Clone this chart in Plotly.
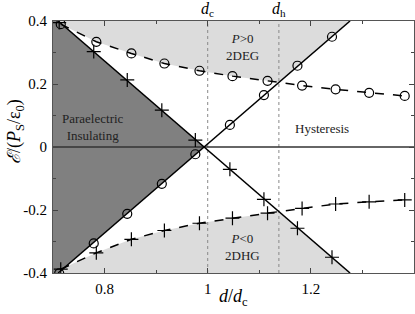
import plotly.graph_objects as go

# ---------------- data ----------------
# markers on the straight (solid) lines
solid_x = [0.712, 0.779, 0.844, 0.911, 0.976, 1.043, 1.109, 1.174, 1.241]
asc_circle_y = [-0.401, -0.306, -0.212, -0.117, -0.023, 0.070, 0.165, 0.258, 0.350]
desc_plus_y = [0.395, 0.303, 0.213, 0.117, 0.022, -0.071, -0.166, -0.258, -0.350]

# fitted straight lines
line_x = [0.710, 1.276]
asc_line_y = [-0.40, 0.40]
desc_line_y = [0.40, -0.40]

# dashed curves
dash_x = [0.715, 0.784, 0.852, 0.916, 0.984, 1.048, 1.116, 1.183, 1.248, 1.313, 1.382]
dash_circle_y = [0.390, 0.334, 0.297, 0.265, 0.242, 0.225, 0.210, 0.195, 0.183, 0.172, 0.162]
dash_plus_y = [-0.388, -0.336, -0.293, -0.265, -0.242, -0.226, -0.210, -0.195, -0.181, -0.174, -0.168]

d_c = 1.0
d_h = 1.138

x_range = [0.7, 1.4]
y_range = [-0.4, 0.4]
x_ticks = [0.8, 1.0, 1.2]
x_ticktext = ["0.8", "1", "1.2"]
y_ticks = [-0.4, -0.2, 0, 0.2, 0.4]
y_ticktext = ["-0.4", "-0.2", "0", "0.2", "0.4"]

# ---------------- helpers ----------------
def interp(x, xs, ys):
    for i in range(len(xs) - 1):
        if xs[i] <= x <= xs[i + 1]:
            t = (x - xs[i]) / (xs[i + 1] - xs[i])
            return ys[i] + t * (ys[i + 1] - ys[i])
    t = (x - xs[0]) / (xs[1] - xs[0])
    return ys[0] + t * (ys[1] - ys[0])

x_cross = line_x[0] + (0 - asc_line_y[0]) * (line_x[1] - line_x[0]) / (asc_line_y[1] - asc_line_y[0])

dark_x = [x_range[0], line_x[0], x_cross, line_x[0], x_range[0], x_range[0]]
dark_y = [y_range[1], desc_line_y[0], 0, asc_line_y[0], y_range[0], y_range[1]]

yh_up = interp(d_h, line_x, asc_line_y)
up_x = [x_range[0], line_x[1], d_h]
up_y = [y_range[1], asc_line_y[1], yh_up]
for xv, yv in reversed(list(zip(dash_x, dash_circle_y))):
    if xv < d_h:
        up_x.append(xv)
        up_y.append(yv)
up_x += [x_range[0], x_range[0]]
up_y += [y_range[1], y_range[1]]

yh_lo = interp(d_h, line_x, desc_line_y)
lo_x = [x_range[0], line_x[1], d_h]
lo_y = [y_range[0], desc_line_y[1], yh_lo]
for xv, yv in reversed(list(zip(dash_x, dash_plus_y))):
    if xv < d_h:
        lo_x.append(xv)
        lo_y.append(yv)
lo_x += [x_range[0], x_range[0]]
lo_y += [y_range[0], y_range[0]]

FONT = "'Liberation Serif', 'Times New Roman', Times, serif"
LIGHT = "#dcdcdc"
DARK = "#808080"

fig = go.Figure()

fig.add_trace(go.Scatter(x=up_x, y=up_y, fill="toself", fillcolor=LIGHT,
                         mode="none", hoverinfo="skip"))
fig.add_trace(go.Scatter(x=lo_x, y=lo_y, fill="toself", fillcolor=LIGHT,
                         mode="none", hoverinfo="skip"))
fig.add_trace(go.Scatter(x=dark_x, y=dark_y, fill="toself", fillcolor=DARK,
                         mode="none", hoverinfo="skip"))

for xv in [d_c, d_h]:
    fig.add_trace(go.Scatter(x=[xv, xv], y=y_range, mode="lines",
                             line=dict(color="#888888", width=1, dash="dot"),
                             hoverinfo="skip"))

fig.add_trace(go.Scatter(x=x_range, y=[0, 0], mode="lines",
                         line=dict(color="#333333", width=1.5), hoverinfo="skip"))

fig.add_trace(go.Scatter(x=line_x, y=asc_line_y, mode="lines",
                         line=dict(color="black", width=1.5)))
fig.add_trace(go.Scatter(x=line_x, y=desc_line_y, mode="lines",
                         line=dict(color="black", width=1.5)))

circle_marker = dict(symbol="circle-open", size=9, color="black", line=dict(width=1.2))
plus_marker = dict(symbol="cross-thin-open", size=10, color="black",
                   line=dict(width=1.2, color="black"))

fig.add_trace(go.Scatter(x=dash_x, y=dash_circle_y, mode="lines+markers",
                         line=dict(color="black", width=1.5, dash="dash"),
                         marker=circle_marker))
fig.add_trace(go.Scatter(x=dash_x, y=dash_plus_y, mode="lines+markers",
                         line=dict(color="black", width=1.5, dash="dash"),
                         marker=plus_marker))

fig.add_trace(go.Scatter(x=solid_x, y=asc_circle_y, mode="markers", marker=circle_marker))
fig.add_trace(go.Scatter(x=solid_x, y=desc_plus_y, mode="markers", marker=plus_marker))

axis_common = dict(
    showline=True, linecolor="#555555", linewidth=1, mirror="ticks",
    ticks="inside", ticklen=5, tickwidth=1, tickcolor="#444444",
    showgrid=False, zeroline=False,
    tickfont=dict(family=FONT, size=15, color="black"),
)

fig.update_xaxes(range=x_range, tickmode="array", tickvals=x_ticks, ticktext=x_ticktext,
                 minor=dict(ticks="inside", ticklen=3, dtick=0.1, tick0=0,
                            tickcolor="#444444", showgrid=False),
                 ticklabelstandoff=2, **axis_common)
fig.update_yaxes(range=y_range, tickmode="array", tickvals=y_ticks, ticktext=y_ticktext,
                 minor=dict(ticks="inside", ticklen=3, dtick=0.1, tick0=0,
                            tickcolor="#444444", showgrid=False),
                 ticklabelstandoff=2, **axis_common)

ann_font = dict(family=FONT, size=13, color="#222222")
annotations = [
    dict(x=0.777, y=0.063, text="Paraelectric<br>Insulating", xref="x", yref="y",
         showarrow=False, font=ann_font, xanchor="center", yanchor="middle"),
    dict(x=1.221, y=0.06, text="Hysteresis", xref="x", yref="y",
         showarrow=False, font=ann_font, xanchor="center", yanchor="middle"),
    dict(x=1.067, y=0.316, text="<i>P</i>>0<br>2DEG", xref="x", yref="y",
         showarrow=False, font=ann_font, xanchor="center", yanchor="middle"),
    dict(x=1.067, y=-0.319, text="<i>P</i><0<br>2DHG", xref="x", yref="y",
         showarrow=False, font=ann_font, xanchor="center", yanchor="middle"),
    dict(x=d_c, y=1.0, yshift=12, text="<i>d</i><sub>c</sub>", xref="x", yref="paper",
         showarrow=False, font=dict(family=FONT, size=16, color="black"),
         xanchor="center", yanchor="middle"),
    dict(x=d_h, y=1.0, yshift=12, text="<i>d</i><sub>h</sub>", xref="x", yref="paper",
         showarrow=False, font=dict(family=FONT, size=16, color="black"),
         xanchor="center", yanchor="middle"),
    dict(x=0.5, y=0, xref="paper", yref="paper", yshift=-24,
         text="<i>d</i>/<i>d</i><sub>c</sub>", showarrow=False,
         xanchor="center", yanchor="middle",
         font=dict(family=FONT, size=18, color="black")),
    dict(x=0, y=0.5, xref="paper", yref="paper", xshift=-38, yshift=15,
         text="<i>ℰ</i>/(<i>P</i><sub>S</sub>/ε<sub>0</sub>)", textangle=-90,
         showarrow=False, xanchor="center", yanchor="middle",
         font=dict(family=FONT, size=18, color="black")),
]

fig.update_layout(
    width=415, height=314,
    margin=dict(l=53, r=1, t=21, b=41),
    paper_bgcolor="white", plot_bgcolor="white",
    showlegend=False,
    annotations=annotations,
)

fig.write_html("out.html",
               config={"displayModeBar": False},
               post_script="document.body.style.margin='0';document.body.style.overflow='hidden';")
